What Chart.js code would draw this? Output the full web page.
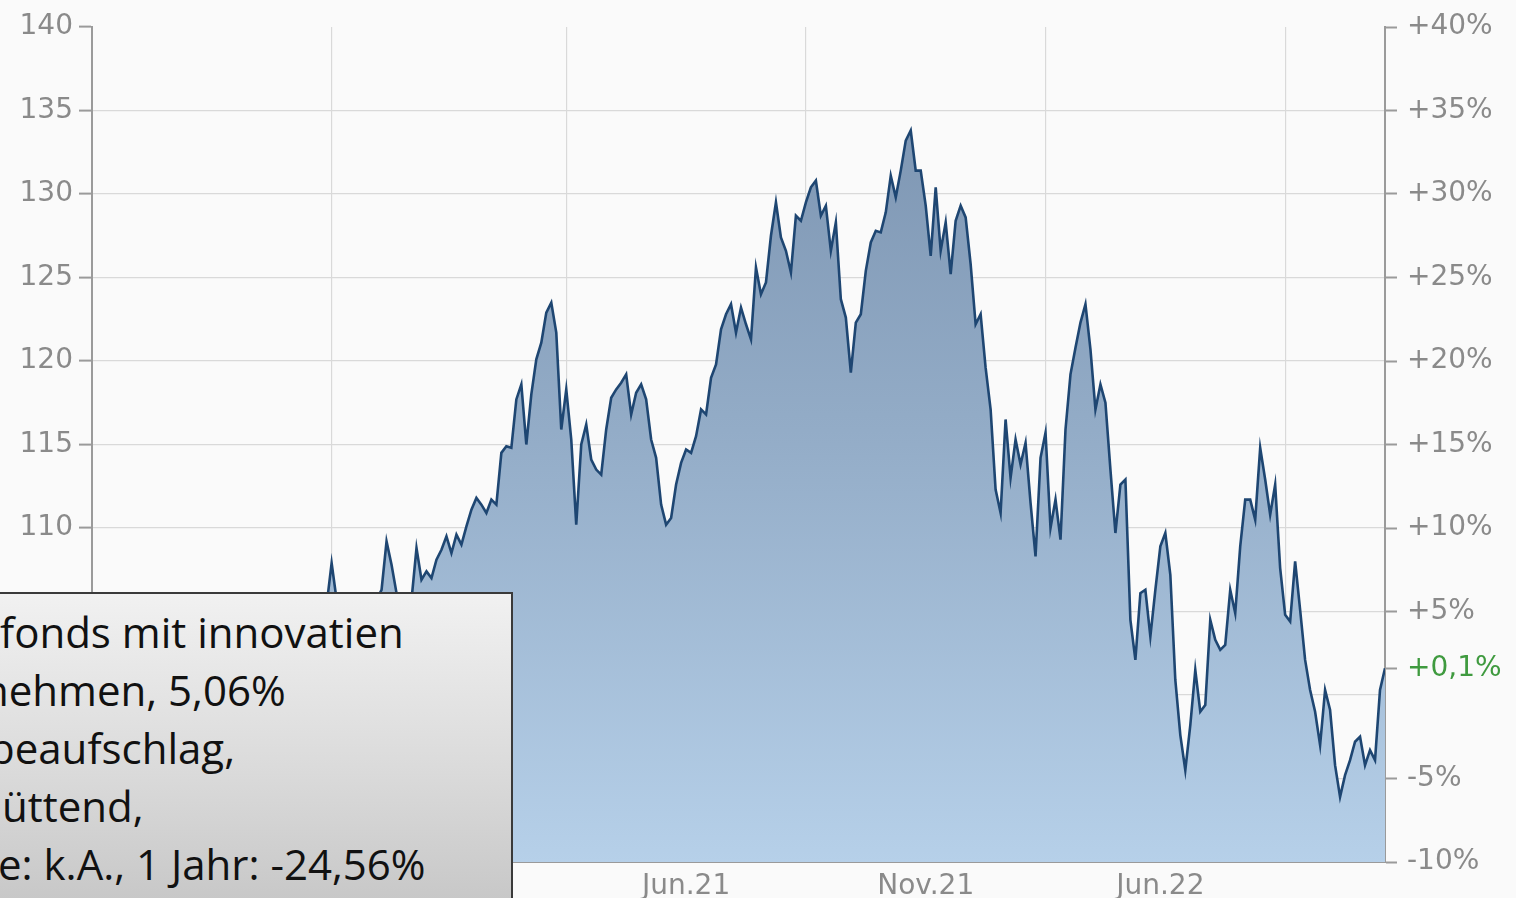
<!DOCTYPE html>
<html>
<head>
<meta charset="utf-8">
<script src="https://cdn.jsdelivr.net/npm/chart.js@4"></script>
<style>
  html, body { margin: 0; padding: 0; background: #fafafa; overflow: hidden; }
  #wrap { position: relative; width: 1516px; height: 898px; }
  #box {
    position: absolute; left: -10px; top: 592px; width: 523px; height: 330px;
    border: 2px solid #3a3a3a; box-sizing: border-box;
    background: linear-gradient(to bottom, #f1f1f1 0%, #dadada 55%, #c5c5c5 100%);
    font-family: "Open Sans", sans-serif; font-size: 42px; line-height: 58px; color: #111;
    padding-top: 9px; overflow: hidden;
  }
  #box div { white-space: nowrap; }
</style>
</head>
<body>
<div id="wrap">
  <canvas id="c" width="1516" height="898"></canvas>
  <div id="box">
    <div style="margin-left:8px">fonds mit innovatien</div>
    <div style="margin-left:-9px">nehmen, 5,06%</div>
    <div style="margin-left:-3px">beaufschlag,</div>
    <div style="margin-left:10px">üttend,</div>
    <div style="margin-left:6px">e: k.A., 1 Jahr: -24,56%</div>
  </div>
</div>
<script>
// ---- data ----
const values = [
  100.0, 100.6, 101.2, 100.8, 101.5, 102.1, 101.6, 102.4, 103.0, 102.5,
  103.2, 103.8, 103.1, 102.4, 101.8, 102.6, 103.4, 104.0, 103.5, 102.7,
  101.9, 101.2, 100.5, 99.8, 99.2, 98.5, 99.3, 100.1, 99.6, 98.8,
  98.1, 97.5, 98.3, 99.0, 99.8, 100.6, 101.3, 100.7, 101.5, 102.2,
  103.0, 103.6, 104.2, 103.7, 104.4, 105.0, 104.6,
  105.4, 107.9, 105.7, 105.1, 104.8, 105.1, 104.5, 104.8, 105.1, 105.4,
  105.7, 106.3, 109.2, 107.8, 106.1, 105.4, 105.1, 105.7, 108.8, 106.9,
  107.4, 107.0, 108.1, 108.7, 109.5, 108.5, 109.6, 109.0, 110.1, 111.1,
  111.8, 111.4, 110.9, 111.7, 111.4, 114.5, 114.9, 114.8, 117.7, 118.6,
  115.0, 118.0, 120.1, 121.1, 122.9, 123.5, 121.7, 115.9, 118.3, 115.3,
  110.2, 115.0, 116.2, 114.1, 113.5, 113.2, 115.9, 117.8, 118.3, 118.7,
  119.2, 116.8, 118.1, 118.6, 117.7, 115.3, 114.2, 111.4, 110.2, 110.6,
  112.6, 113.9, 114.7, 114.5, 115.5, 117.1, 116.8, 119.0, 119.8, 121.9,
  122.8, 123.4, 121.7, 123.2, 122.2, 121.3, 125.6, 124.0, 124.7, 127.5,
  129.5, 127.4, 126.6, 125.3, 128.7, 128.4, 129.5, 130.4, 130.8, 128.7,
  129.3, 126.6, 128.3, 123.7, 122.6, 119.3, 122.3, 122.8, 125.4, 127.1,
  127.8, 127.7, 128.9, 131.1, 129.8, 131.4, 133.2, 133.8, 131.4, 131.4,
  129.3, 126.3, 130.4, 126.6, 128.3, 125.2, 128.4, 129.3, 128.6, 125.8,
  122.2, 122.8, 119.6, 117.1, 112.3, 110.9, 116.5, 113.0, 115.3, 113.8,
  115.1, 111.5, 108.3, 114.2, 115.7, 110.0, 111.7, 109.3, 115.9, 119.2,
  120.8, 122.3, 123.4, 120.7, 117.1, 118.6, 117.5, 113.5, 109.7, 112.6,
  112.9, 104.5, 102.1, 106.1, 106.3, 103.5, 106.3, 108.9, 109.7, 107.2,
  100.9, 97.6, 95.5, 98.2, 101.5, 99.0, 99.4, 104.5, 103.3, 102.7,
  103.0, 106.3, 104.9, 108.9, 111.7, 111.7, 110.5, 114.8, 112.9, 110.8,
  112.6, 107.6, 104.8, 104.4, 108.0, 105.1, 102.1, 100.3, 99.0, 97.0,
  100.3, 99.1, 95.8, 93.9, 95.2, 96.1, 97.2, 97.5, 95.8, 96.7,
  96.1, 100.3, 101.6
];
const gridIdx = [48, 95, 143, 191, 239];          // period boundaries (sample index)
const xLabels = ["Jun.21", "Nov.21", "Jun.22"];
const xLabelIdx = [119, 167, 214];
const leftMin = 90, leftMax = 140, leftStep = 5;
const rightTicks = [40, 35, 30, 25, 20, 15, 10, 5, -5, -10];
const currentLabel = "+0,1%";
const baseValue = 100;

// ---- chart ----
const lastPct = values[values.length - 1] - baseValue;
const points = values.map((v, i) => ({ x: i, y: v }));
const axisGray = '#9a9a9a';
const textGray = '#8a8a8a';
const font = { family: '"DejaVu Sans", Verdana, sans-serif', size: 28 };

new Chart(document.getElementById('c'), {
  type: 'line',
  data: {
    datasets: [{
      data: points,
      borderColor: '#1e4672',
      borderWidth: 2.6,
      pointRadius: 0,
      tension: 0,
      fill: 'start',
      backgroundColor: (ctx) => {
        const ch = ctx.chart, a = ch.chartArea;
        if (!a) return 'rgba(140,165,195,0.8)';
        const g = ch.ctx.createLinearGradient(0, a.top, 0, a.bottom);
        g.addColorStop(0, '#7890ad');
        g.addColorStop(0.5, '#94adc8');
        g.addColorStop(1, '#b6d0e9');
        return g;
      },
      yAxisID: 'y'
    }]
  },
  options: {
    responsive: false,
    animation: false,
    events: [],
    layout: { padding: { top: 27, left: 0, right: 0, bottom: 0 } },
    plugins: { legend: { display: false }, tooltip: { enabled: false } },
    scales: {
      x: {
        type: 'linear',
        min: 0,
        max: values.length - 1,
        afterBuildTicks: (s) => {
          const t = gridIdx.map(v => ({ value: v }))
            .concat(xLabelIdx.map(v => ({ value: v })));
          t.sort((a, b) => a.value - b.value);
          s.ticks = t;
        },
        afterFit: (s) => { s.height = 36; },
        ticks: {
          autoSkip: false, maxRotation: 0, padding: 8, color: textGray, font,
          callback: function (v) {
            const k = xLabelIdx.indexOf(v);
            return k >= 0 ? xLabels[k] : '';
          }
        },
        grid: {
          drawTicks: false,
          lineWidth: 1.2,
          color: (ctx) => (ctx.tick && gridIdx.includes(ctx.tick.value)) ? '#d9d9d9' : 'rgba(0,0,0,0)'
        },
        border: { display: true, color: axisGray, width: 2 }
      },
      y: {
        type: 'linear',
        position: 'left',
        min: leftMin,
        max: leftMax,
        afterFit: (s) => { s.width = 92; },
        ticks: { stepSize: leftStep, padding: 6, color: textGray, font },
        grid: {
          tickLength: 13,
          tickWidth: 2,
          tickColor: axisGray,
          lineWidth: 1.2,
          color: (ctx) => (ctx.tick && (ctx.tick.value === leftMax || ctx.tick.value === leftMin)) ? 'rgba(0,0,0,0)' : '#d9d9d9'
        },
        border: { display: true, color: axisGray, width: 2 }
      },
      y2: {
        type: 'linear',
        position: 'right',
        min: leftMin - baseValue,
        max: leftMax - baseValue,
        afterFit: (s) => { s.width = 1516 - 1385; },
        afterBuildTicks: (s) => {
          const t = rightTicks.concat([lastPct]).sort((a, b) => b - a);
          s.ticks = t.map(v => ({ value: v }));
        },
        ticks: {
          autoSkip: false,
          padding: 10,
          font,
          color: (ctx) => (ctx.tick && ctx.tick.value === lastPct) ? '#3f9a3f' : textGray,
          callback: (v) => v === lastPct ? currentLabel : ((v > 0 ? '+' : '') + v + '%')
        },
        grid: {
          drawOnChartArea: false,
          tickLength: 12,
          tickWidth: 2,
          tickColor: axisGray
        },
        border: { display: true, color: axisGray, width: 2 }
      }
    }
  }
});
</script>
</body>
</html>
